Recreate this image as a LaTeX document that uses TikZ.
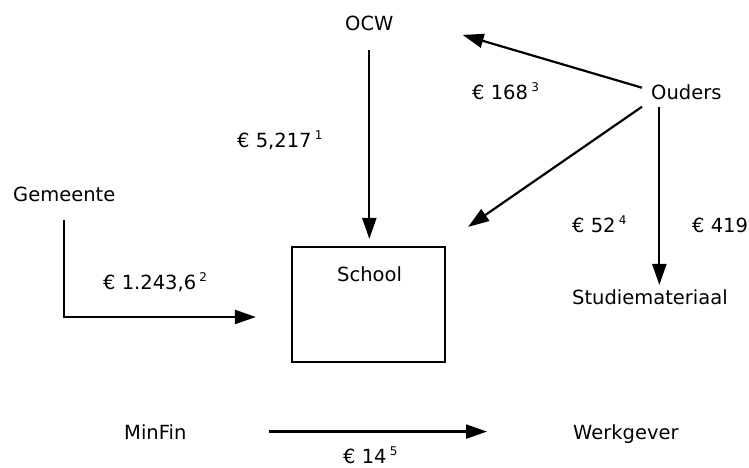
\documentclass[tikz,border=0pt]{standalone}
\usepackage{fontspec}
\setmainfont{DejaVu Sans}
\usetikzlibrary{arrows.meta}
\newcommand\supnum[1]{\,\raisebox{8pt}{\fontsize{12}{13}\selectfont #1}}
\tikzset{x=1pt,y=-1pt,
    every node/.style={
        inner sep=0pt,
        font=\fontsize{19.5}{23}\selectfont},
    lbl/.style={anchor=base west},
    schoolbox/.style={
        draw,
        line width=2.2pt,
        minimum width=153pt,
        minimum height=115pt},
    geldstroom/.style={
        draw,
        line width=2.2pt,
        -{Triangle[length=21pt,width=14pt]}}}

\begin{document}
\begin{tikzpicture}
        \useasboundingbox (0,0) rectangle (749,468);

        \node[lbl] (ocw) at (345,31) {OCW};
        \node[lbl] (gemeente) at (13,201) {Gemeente};
        \node[lbl] (ouders) at (651,100) {Ouders};
        \node[lbl] (studie) at (572,304) {Studiemateriaal};
        \node[lbl] (minfin) at (124,439) {MinFin};
        \node[lbl] (werkgever) at (573,439) {Werkgever};
        \node[schoolbox] (school) at (368.5,304.5) {};
        \node[lbl] (schooltxt) at (337,281) {School};

        % bedragen
        \node[lbl] (b1) at (237,147) {€ 5,217\supnum{1}};
        \node[lbl] (b2) at (103,289) {€ 1.243,6\supnum{2}};
        \node[lbl] (b3) at (472,100) {€ 168\supnum{3}};
        \node[lbl] (b4) at (572,232) {€ 52\supnum{4}};
        \node[lbl] (b419) at (692,232) {€ 419};
        \node[lbl] (b5) at (343,463) {€ 14\supnum{5}};

        \draw[geldstroom,shorten <=19pt,shorten >=7pt] (ocw.south) -- (ocw.south |- school.north);
        \draw[geldstroom,shorten <=19pt] (gemeente.south) |- ([shift={(-35,12.5)}]school.west);
        \draw[geldstroom] ([shift={(-9,-5)}]ouders.west) -- ([shift={(69,11)}]ocw.east);
        \draw[geldstroom] ([shift={(-9,14)}]ouders.west) -- ([shift={(22,-19)}]school.north east);
        \draw[geldstroom,shorten >=11pt] ([shift={(-27,7)}]ouders.south) -- ([shift={(-27,7)}]ouders.south |- studie.north);
        \draw[geldstroom,shorten <=82pt,shorten >=86pt] (minfin.east) -- (minfin.east -| werkgever.west);
    \end{tikzpicture}
\end{document}
